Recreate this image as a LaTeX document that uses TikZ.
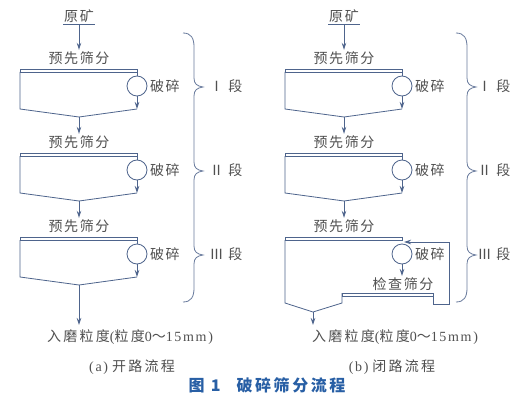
\documentclass[tikz,border=0pt]{standalone}
\usepackage{fontspec}
\setmainfont{Liberation Serif}
\newfontfamily\cj{Noto Sans CJK SC}[LetterSpace=11]
\newfontfamily\cjp{Noto Sans CJK SC}[LetterSpace=16]
\newfontfamily\lt{Liberation Serif}[LetterSpace=12]
\newfontfamily\cjcap{Noto Sans CJK SC}[LetterSpace=16]
\usetikzlibrary{arrows.meta}
\definecolor{ln}{RGB}{78,100,140}
\definecolor{tx}{RGB}{80,80,80}
\definecolor{capc}{RGB}{40,95,165}
\tikzset{
  flow/.style={draw=ln, line width=0.8pt},
  arr/.style={flow, -{Stealth[length=7pt,width=4.5pt]}},
  lbl/.style={text=tx, font=\cj\fontsize{14}{16}\selectfont, inner sep=1.5pt},
  mill/.style={circle, draw=ln, line width=0.8pt, minimum size=20pt, inner sep=0pt},
  brace/.style={draw=ln!85, line width=0.8pt}
}
\newcommand{\prodtext}{\cjp\fontsize{14}{16}\selectfont 入磨粒度\lt(\cjp 粒度\lt 0\cjp ～\lt 15mm)}
\begin{document}
\begin{tikzpicture}[x=1pt,y=-1pt]
\useasboundingbox (0,0) rectangle (529,401);
\fill[white] (0,0) rectangle (529,401);

% raw ore labels
\foreach \ox/\p in {0/a,265/b}{
  \node[lbl, inner xsep=1pt] (ore-\p) at (\ox+79,16) {原矿};
  \draw[flow] (ore-\p.south west) -- (ore-\p.south east);
}

% stages
\foreach \ox/\p in {0/a,265/b}{
  \foreach \s in {1,2,3}{
    \pgfmathsetmacro{\yo}{69+84*(\s-1)}
    \node[lbl] (pre-\p\s) at (\ox+79,\yo-11) {预先筛分};
    \draw[flow] (\ox+20,\yo) rectangle (\ox+137,\yo+3);
    \node[mill] (mill-\p\s) at (\ox+137,\yo+17) {};
    \node[lbl, anchor=west] (cr-\p\s) at ([xshift=1pt]mill-\p\s.east) {破碎};
  }
}
\draw[arr] (ore-a.south) -- (pre-a1.north);
\draw[arr] (ore-b.south) -- (pre-b1.north);

% open stages
\foreach \ox/\p/\s in {0/a/1,0/a/2,0/a/3,265/b/1,265/b/2}{
  \pgfmathsetmacro{\yo}{69+84*(\s-1)}
  \coordinate (tp-\p\s) at (\ox+137,\yo+3);
  \coordinate (rb-\p\s) at (\ox+137,\yo+40);
  \coordinate (lb-\p\s) at (\ox+20,\yo+40);
  \coordinate (v-\p\s) at (\ox+79,\yo+48);
  \draw[flow] (tp-\p\s) -- (mill-\p\s.north);
  \draw[arr] (mill-\p\s.south) -- (rb-\p\s);
  \draw[flow] (\ox+20,\yo+3) -- (lb-\p\s) -- (v-\p\s) -- (rb-\p\s);
}
\draw[arr] (v-a1) -- (pre-a2.north);
\draw[arr] (v-a2) -- (pre-a3.north);
\draw[arr] (v-b1) -- (pre-b2.north);
\draw[arr] (v-b2) -- (pre-b3.north);

% final product (a)
\node[text=tx, inner sep=0pt, anchor=west] (prod-a) at (47,337) {\prodtext};
\coordinate (pa-top) at (79,325);
\draw[arr] (v-a3) -- (pa-top);

% closed stage 3 (b)
\coordinate (b3L) at (285,303);
\coordinate (b3V) at (313,312);
\coordinate (b3R) at (342,303);
\coordinate (chkL) at (342,293);
\coordinate (chkR) at (433,296);
\coordinate (rt1) at (433,304);
\coordinate (rt2) at (449,304);
\coordinate (rt3) at (449,242);
\coordinate (rt4) at (404,242);
\draw[flow] (285,240) -- (b3L) -- (b3V) -- (b3R) -- (chkL);
\draw[flow] (chkL) rectangle (chkR);
\draw[flow] (chkR) -- (rt1) -- (rt2) -- (rt3);
\draw[arr] (rt3) -- (rt4);
\node[lbl] (chk) at (403,284) {检查筛分};
\draw[arr] (mill-b3.south) -- (402,276);
\node[text=tx, inner sep=0pt, anchor=west] (prod-b) at (312,337) {\prodtext};
\coordinate (pb-top) at (313,325);
\draw[arr] (b3V) -- (pb-top);

% braces
\foreach \bx/\cx/\ex in {194/203/183,467/476/456}{
  \draw[brace] (\ex,33) .. controls (\bx-3,33) and (\bx,38) .. (\bx,47)
    -- (\bx,78) .. controls (\bx,84) and (\bx+3,86) .. (\cx,87)
    .. controls (\bx+3,88) and (\bx,90) .. (\bx,96)
    -- (\bx,162) .. controls (\bx,168) and (\bx+3,170) .. (\cx,171)
    .. controls (\bx+3,172) and (\bx,174) .. (\bx,180)
    -- (\bx,246) .. controls (\bx,252) and (\bx+3,254) .. (\cx,255)
    .. controls (\bx+3,256) and (\bx,258) .. (\bx,264)
    -- (\bx,288) .. controls (\bx,297) and (\bx-3,302) .. (\ex,302);
}
\foreach \lx/\p in {226/a,494/b}{
  \node[lbl] (s1-\p) at (\lx,86) {Ⅰ 段};
  \node[lbl] (s2-\p) at (\lx,170) {Ⅱ 段};
  \node[lbl] (s3-\p) at (\lx,254) {Ⅲ 段};
}

% captions
\node[text=tx, inner sep=0pt] (capa) at (132,367)
  {\lt\fontsize{14}{16}\selectfont (a)\hspace{4pt}\cjp 开路流程};
\node[text=tx, inner sep=0pt] (capb) at (392,367)
  {\lt\fontsize{14}{16}\selectfont (b)\hspace{4pt}\cjp 闭路流程};
\node[text=capc, inner sep=0pt] (title) at (267,385)
  {\cjcap\bfseries\fontsize{16}{18}\selectfont 图 1\hspace{16pt}破碎筛分流程};
\end{tikzpicture}
\end{document}
